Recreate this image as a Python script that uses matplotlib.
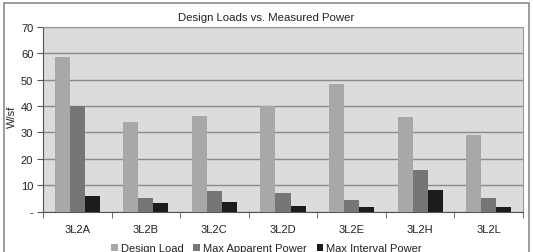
import matplotlib
matplotlib.use("Agg")
import matplotlib.pyplot as plt
import numpy as np
from matplotlib.patches import Rectangle

plt.rcParams['font.family'] = ['Liberation Sans', 'DejaVu Sans']

categories = ['3L2A', '3L2B', '3L2C', '3L2D', '3L2E', '3L2H', '3L2L']
design_load = [58.7, 34.0, 36.3, 40.0, 48.5, 36.0, 29.2]
max_apparent = [40.0, 5.2, 7.9, 7.0, 4.4, 15.8, 5.2]
max_interval = [6.0, 3.1, 3.5, 2.1, 1.6, 8.2, 1.6]
series_names = ['Design Load', 'Max Apparent Power', 'Max Interval Power']
yticks = [0, 10, 20, 30, 40, 50, 60, 70]
ytick_labels = ['-', '10', '20', '30', '40', '50', '60', '70']

fig = plt.figure(figsize=(5.33, 2.53), dpi=100)
ax = fig.add_axes([43/533, 1 - 212.5/253, 480/533, 184.5/253])

# outer chart frame
fig.patches.append(Rectangle((4/533, -0.1), 525/533, 1.1 - 4/253, transform=fig.transFigure,
                             fill=False, edgecolor='#8c8c8c', linewidth=1.2))

x = np.arange(len(categories))
w = 0.22
colors = ['#a8a8a8', '#767676', '#1c1c1c']
for i, (vals, name) in enumerate(zip([design_load, max_apparent, max_interval], series_names)):
    ax.bar(x + (i - 1) * w, vals, w, color=colors[i], label=name, zorder=3)

ax.set_facecolor('#dcdcdc')
ax.set_xlim(-0.5, len(categories) - 0.5)
ax.set_ylim(0, 70)
ax.set_yticks(yticks)
ax.set_yticklabels(ytick_labels, fontsize=8, color='#222222')
ax.yaxis.grid(True, color='#8a8a8a', linewidth=1.0, zorder=1)
ax.set_axisbelow(True)

ax.set_xticks(x)
ax.set_xticklabels(categories, fontsize=8, color='#222222')
ax.set_xticks(np.arange(len(categories) + 1) - 0.5, minor=True)
ax.tick_params(axis='x', which='major', length=0, pad=9)
ax.tick_params(axis='x', which='minor', length=4, color='#555555', direction='out')
ax.tick_params(axis='y', length=4, color='#555555', pad=3)

for s in ['top', 'right']:
    ax.spines[s].set_color('#9a9a9a')
    ax.spines[s].set_linewidth(0.8)
ax.spines['left'].set_color('#555555')
ax.spines['bottom'].set_color('#555555')

ax.set_ylabel('W/sf', fontsize=8, color='#222222')
ax.yaxis.set_label_coords(-0.054, 0.52)
fig.text(0.5, 1 - 18/253, 'Design Loads vs. Measured Power', ha='center', va='center',
         fontsize=8.2, color='#222222')

fig.legend(loc='center', bbox_to_anchor=(0.5, 1 - 249/253), ncol=3, frameon=False,
           fontsize=8, handlelength=0.6, handleheight=0.6, handletextpad=0.25,
           columnspacing=0.9, labelcolor='#222222')

fig.savefig('out.png', dpi=100)
